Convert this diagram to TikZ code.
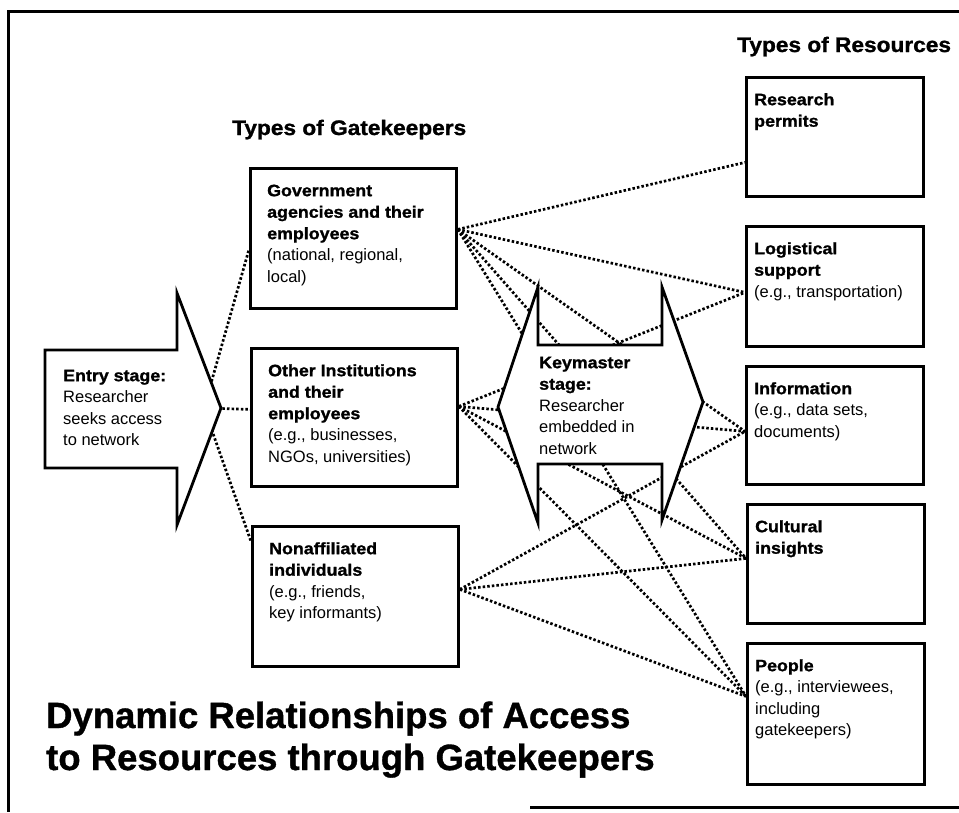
\documentclass[tikz,border=0pt]{standalone}
\usepackage{fontspec}
\setmainfont{Liberation Sans}
\newfontfamily\bfw[FakeStretch=1.08,FakeBold=1.2]{Liberation Sans Bold}
\newfontfamily\titlef[FakeBold=1]{Liberation Sans Bold}
\tikzset{
  boxrect/.style={draw, line width=2.8pt, fill=white, inner sep=0pt, anchor=north west},
  txt/.style={inner sep=0pt, anchor=north west, align=left, font=\fontsize{16.5}{21.5}\selectfont},
  dotline/.style={line width=2.7pt, line cap=butt, dash pattern=on 2.5pt off 2.1pt},
  shapeline/.style={draw, line width=2.8pt, fill=white, line join=miter},
  heading/.style={inner sep=0pt, anchor=base west, font=\bfw\fontsize{21}{25}\selectfont},
  bigtitle/.style={inner sep=0pt, anchor=base west, font=\titlef\fontsize{36.5}{42}\selectfont},
}
\newcommand{\kb}[1]{{\bfw #1}}
\newcommand{\fs}{\rule{0pt}{13pt}}
\begin{document}
\begin{tikzpicture}[x=1pt,y=-1pt]
\useasboundingbox (0,0) rectangle (959,812);
% frame
\draw[line width=3pt] (959,11) -- (8,11) -- (8,812);
\draw[line width=3pt] (530,807) -- (959,807);

% headings
\node[heading] (hgate) at (232,135) {Types of Gatekeepers};
\node[heading] (hres) at (737,52) {Types of Resources};
\node[bigtitle] (t1) at (46,728) {Dynamic Relationships of Access};
\node[bigtitle] (t2) at (46,770) {to Resources through Gatekeepers};

% gatekeeper boxes
\node[boxrect, minimum width=206pt, minimum height=140pt] (gov) at (249,167) {};
\node[boxrect, minimum width=206pt, minimum height=138pt] (oth) at (250,347) {};
\node[boxrect, minimum width=206pt, minimum height=140pt] (non) at (251,525) {};
% resource boxes
\node[boxrect, minimum width=177pt, minimum height=119pt] (res) at (745,76) {};
\node[boxrect, minimum width=177pt, minimum height=120pt] (log) at (745,225) {};
\node[boxrect, minimum width=177pt, minimum height=118pt] (inf) at (745,365) {};
\node[boxrect, minimum width=177pt, minimum height=119pt] (cul) at (746,503) {};
\node[boxrect, minimum width=177pt, minimum height=141pt] (peo) at (746,642) {};

% entry connection origin (hidden behind the entry arrow)
\coordinate (ein) at (204,408);

% dotted connectors
\draw[dotline] (ein) -- ([yshift=-11pt]gov.west);
\draw[dotline] (ein) -- ([yshift=8pt]oth.west);
\draw[dotline] (ein) -- ([yshift=55pt]non.west);

\draw[dotline] ([yshift=9pt]gov.east) -- ([yshift=-25.5pt]res.west);
\draw[dotline] ([yshift=9pt]gov.east) -- ([yshift=-6pt]log.west);
\draw[dotline] ([yshift=9pt]gov.east) -- ([yshift=-6pt]inf.west);
\draw[dotline] ([yshift=9pt]gov.east) -- ([yshift=5.5pt]cul.west);
\draw[dotline] ([yshift=9pt]gov.east) -- ([yshift=17.5pt]peo.west);

\draw[dotline] ([yshift=11pt]oth.east) -- ([yshift=-6pt]log.west);
\draw[dotline] ([yshift=11pt]oth.east) -- ([yshift=-6pt]inf.west);
\draw[dotline] ([yshift=11pt]oth.east) -- ([yshift=5.5pt]cul.west);
\draw[dotline] ([yshift=11pt]oth.east) -- ([yshift=17.5pt]peo.west);

\draw[dotline] ([yshift=7pt]non.east) -- ([yshift=-6pt]inf.west);
\draw[dotline] ([yshift=7pt]non.east) -- ([yshift=5.5pt]cul.west);
\draw[dotline] ([yshift=7pt]non.east) -- ([yshift=17.5pt]peo.west);

% entry arrow
\path[shapeline] (45,350) -- (177,350) -- (177,293) -- (221,408) -- (177,525) -- (177,468) -- (45,468) -- cycle;
% keymaster double arrow
\path[shapeline] (538,345) -- (538,287) -- (498,407) -- (538,523) -- (538,464) -- (662,464) -- (662,520) -- (703,402) -- (662,287) -- (662,345) -- cycle;

% texts
\node[txt] (entryt) at (63,368) {\fs\kb{Entry stage:}\\Researcher\\seeks access\\to network};
\node[txt] (keyt) at (539,355) {\fs\kb{Keymaster}\\\kb{stage:}\\Researcher\\embedded in\\network};

\node[txt] (govt) at (267,183) {\fs\kb{Government}\\\kb{agencies and their}\\\kb{employees}\\(national, regional,\\local)};
\node[txt] (otht) at (268,363) {\fs\kb{Other Institutions}\\\kb{and their}\\\kb{employees}\\(e.g., businesses,\\NGOs, universities)};
\node[txt] (nont) at (269,541) {\fs\kb{Nonaffiliated}\\\kb{individuals}\\(e.g., friends,\\key informants)};

\node[txt] (rest) at (754,92) {\fs\kb{Research}\\\kb{permits}};
\node[txt] (logt) at (754,241) {\fs\kb{Logistical}\\\kb{support}\\(e.g., transportation)};
\node[txt] (inft) at (754,381) {\fs\kb{Information}\\(e.g., data sets,\\documents)};
\node[txt] (cult) at (755,519) {\fs\kb{Cultural}\\\kb{insights}};
\node[txt] (peot) at (755,658) {\fs\kb{People}\\(e.g., interviewees,\\including\\gatekeepers)};
\end{tikzpicture}
\end{document}
